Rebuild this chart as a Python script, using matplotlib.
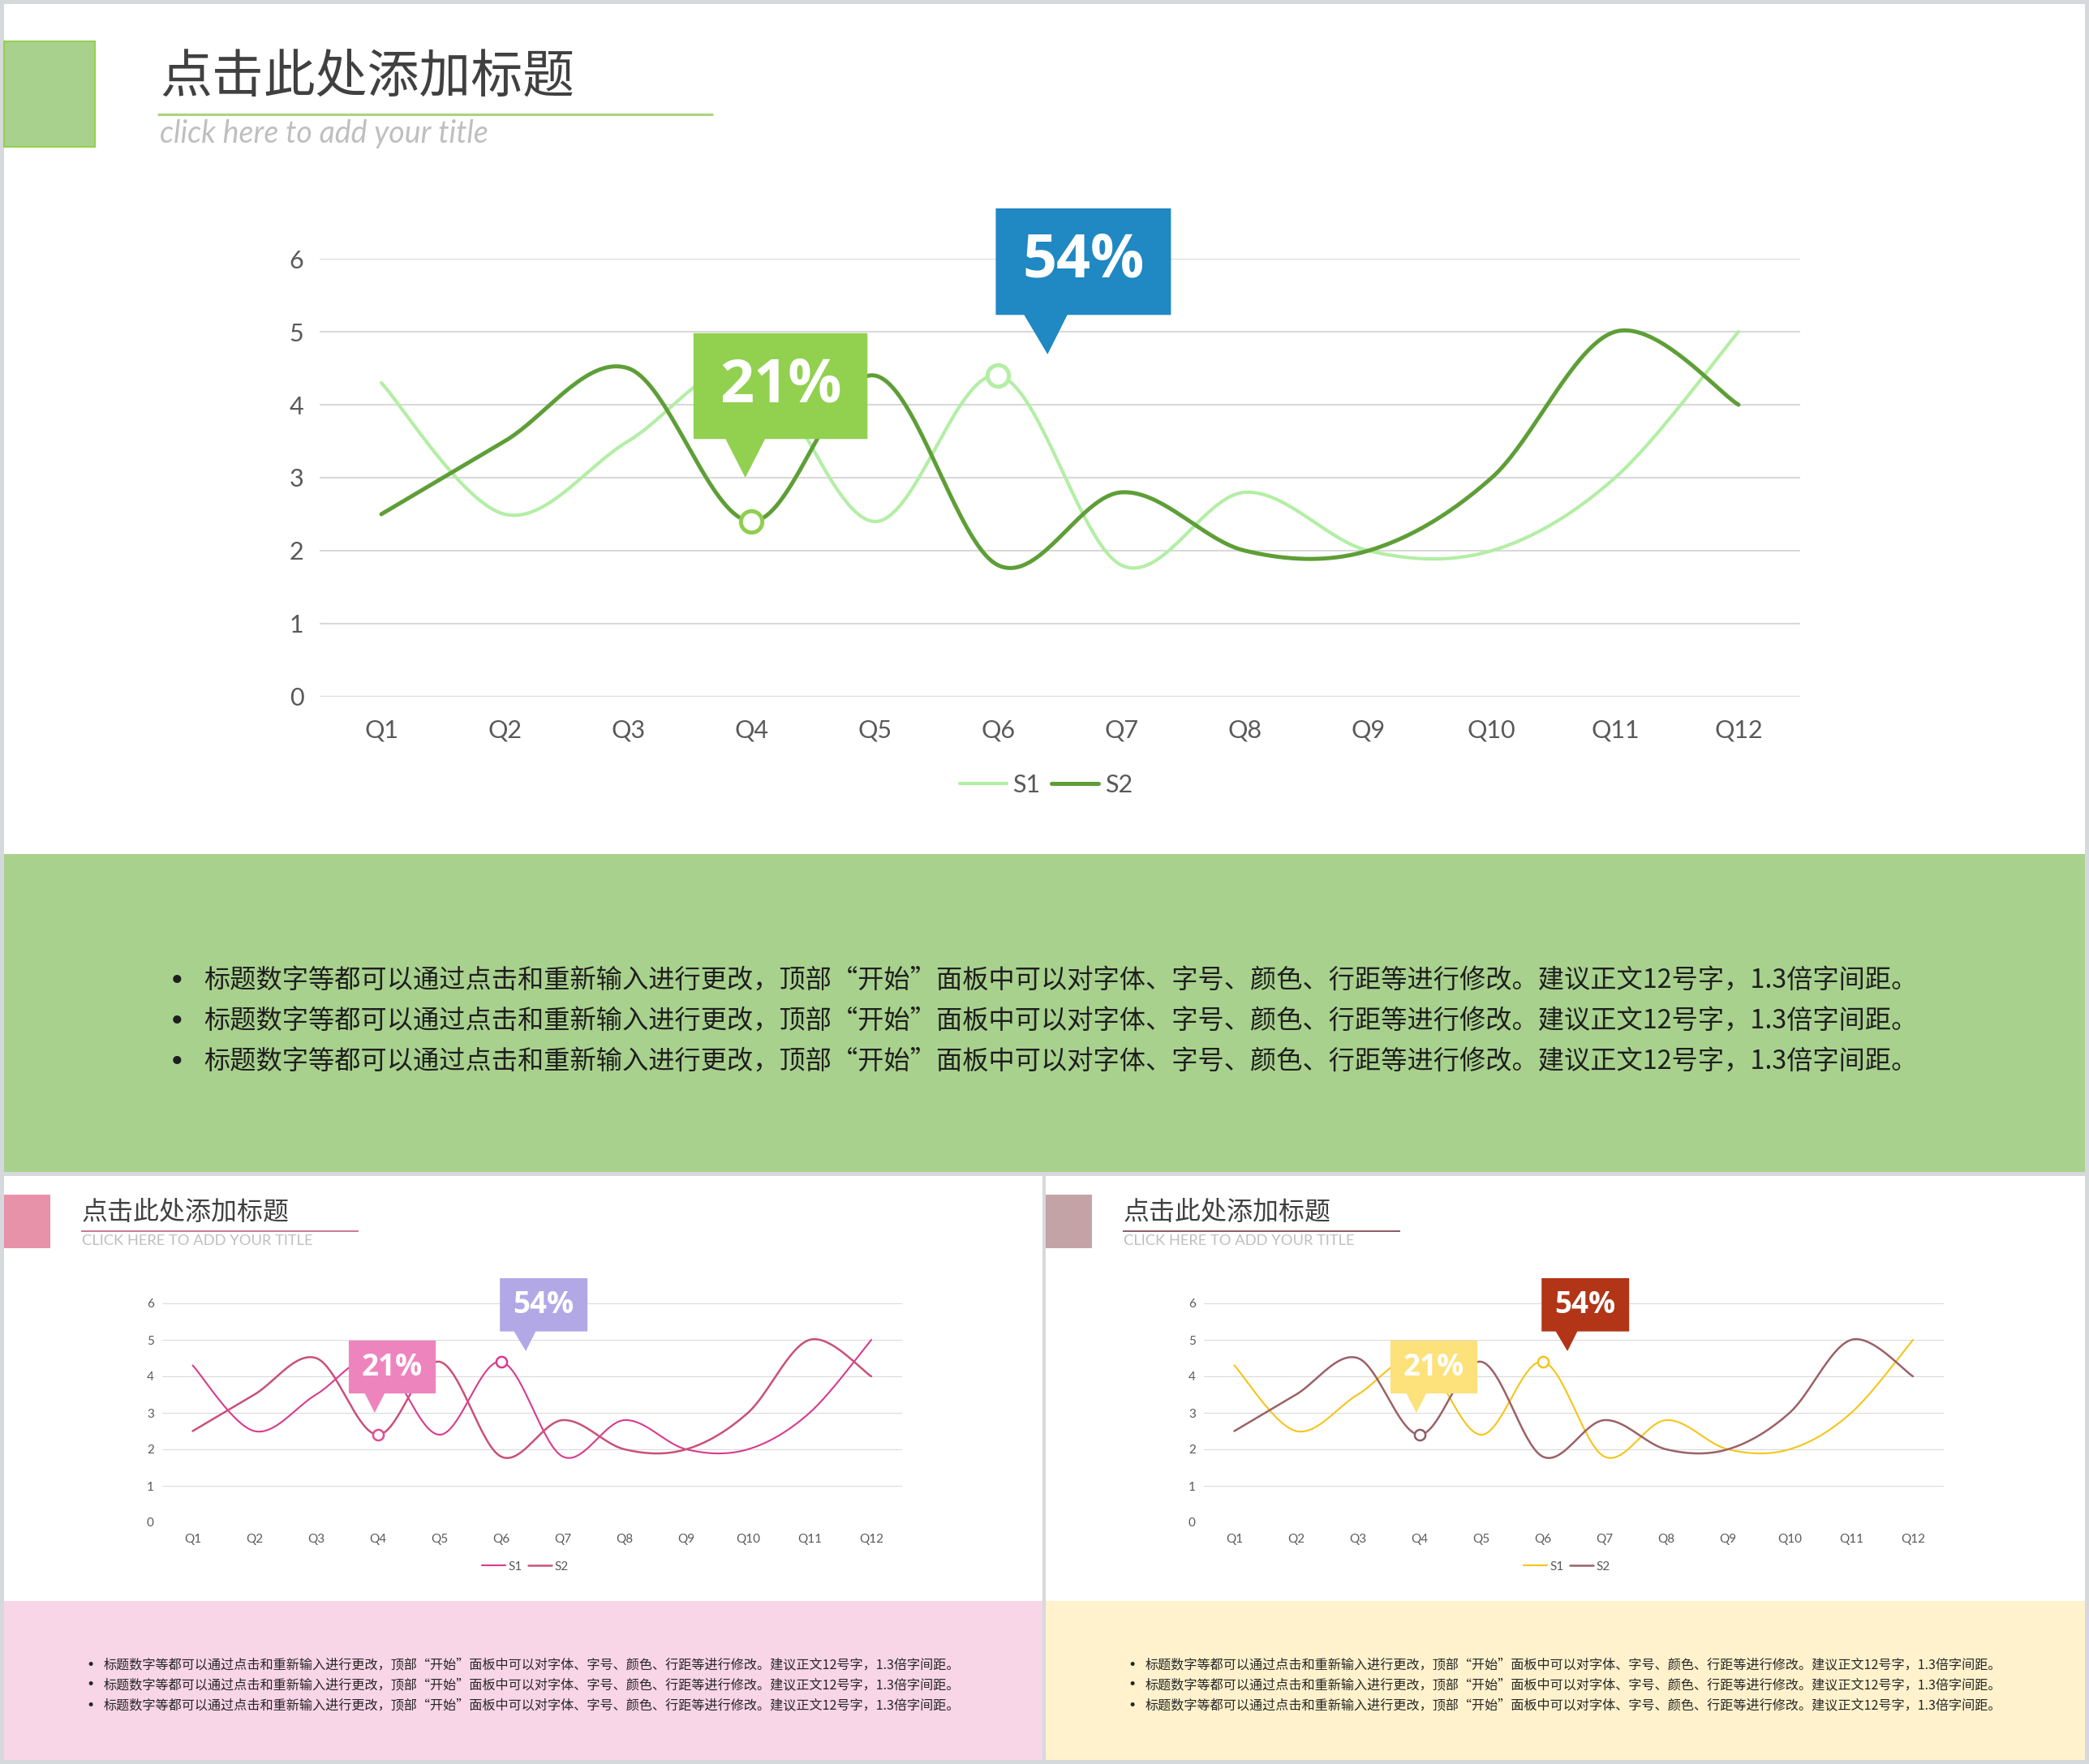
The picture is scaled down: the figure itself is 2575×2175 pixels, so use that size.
import numpy as np
import matplotlib
matplotlib.use("Agg")
import matplotlib.pyplot as plt
from matplotlib.patches import Rectangle, Polygon

# ---------------- data ----------------
categories = ["Q1", "Q2", "Q3", "Q4", "Q5", "Q6", "Q7", "Q8", "Q9", "Q10", "Q11", "Q12"]
s1_values = [4.3, 2.5, 3.5, 4.5, 2.4, 4.4, 1.8, 2.8, 2.0, 2.0, 3.0, 5.0]
s2_values = [2.5, 3.5, 4.5, 2.4, 4.4, 1.8, 2.8, 2.0, 2.0, 3.0, 5.0, 4.0]
series_names = ["S1", "S2"]
y_ticks = [0, 1, 2, 3, 4, 5, 6]
callout_labels = ["21%", "54%"]
callout_series = [1, 0]      # which series the callout points at
callout_index = [3, 5]       # which category (0-based)
title_text = "点击此处添加标题"
subtitle_top = "click here to add your title"
subtitle_small = "CLICK HERE TO ADD YOUR TITLE"
body_text = "标题数字等都可以通过点击和重新输入进行更改，顶部“开始”面板中可以对字体、字号、颜色、行距等进行修改。建议正文12号字，1.3倍字间距。"

# ---------------- styles ----------------
W, H = 2575, 2175
CJK = ["Noto Sans CJK SC", "DejaVu Sans"]
LAT = ["Lato", "DejaVu Sans"]

palettes = [
    dict(square="#a9d18e", square_edge="#92d050", underline="#a9d47f", band="#a9d18e",
         s1="#b3eea5", s2="#5e9e37", box1="#92d050", box2="#2088c2",
         mark=["#8fcf4f", "#b3eea5"], body="#1e1e1e"),
    dict(square="#e792a8", square_edge="#e792a8", underline="#bf4f78", band="#f8d5e7",
         s1="#d93a8f", s2="#c95177", box1="#ee84be", box2="#b3a8e6",
         mark=["#e04c96", "#d93a8f"], body="#262626"),
    dict(square="#c4a3a7", square_edge="#c4a3a7", underline="#6d2d3d", band="#fff2cc",
         s1="#f5c518", s2="#9b6168", box1="#fde17a", box2="#b13516",
         mark=["#8f5d63", "#f5c518"], body="#262626"),
]

# slide origin (px), content scale, slide size (px)
slides = [
    dict(ox=5, oy=5, s=1.0, w=2565, h=1440, pal=palettes[0], sub=subtitle_top, sub_italic=True),
    dict(ox=5, oy=1450, s=0.5, w=1280, h=720, pal=palettes[1], sub=subtitle_small, sub_italic=False),
    dict(ox=1289, oy=1450, s=0.5, w=1281, h=720, pal=palettes[2], sub=subtitle_small, sub_italic=False),
]

# callout geometry relative to the marked point (data units)
callout_geom = [
    dict(bx=(-0.47, 0.94), by=(1.13, 2.58), base=(-0.21, 0.11), tip=(-0.05, 0.60)),
    dict(bx=(-0.02, 1.40), by=(0.83, 2.29), base=(0.21, 0.56), tip=(0.40, 0.29)),
]


def smooth(vals, n=40):
    x = np.arange(1, len(vals) + 1, dtype=float)
    P = np.column_stack([x, np.asarray(vals, dtype=float)])
    Pe = np.vstack([P[0], P, P[-1]])
    out = []
    t = np.linspace(0, 1, n)[:, None]
    for i in range(len(P) - 1):
        p0, p1, p2, p3 = Pe[i], Pe[i + 1], Pe[i + 2], Pe[i + 3]
        c1 = p1 + (p2 - p0) / 6.0
        c2 = p2 - (p3 - p1) / 6.0
        seg = (1 - t) ** 3 * p1 + 3 * (1 - t) ** 2 * t * c1 + 3 * (1 - t) * t ** 2 * c2 + t ** 3 * p2
        out.append(seg if i == 0 else seg[1:])
    return np.vstack(out)


fig = plt.figure(figsize=(W / 100, H / 100), dpi=100)
fig.patch.set_facecolor("#d6d9dc")
bg = fig.add_axes([0, 0, 1, 1])
bg.set_xlim(0, W)
bg.set_ylim(H, 0)
bg.axis("off")

for sl in slides:
    ox, oy, s, pal = sl["ox"], sl["oy"], sl["s"], sl["pal"]

    def X(x):
        return ox + x * s

    def Y(y):
        return oy + y * s

    # slide background
    bg.add_patch(Rectangle((ox, oy), sl["w"], sl["h"], facecolor="white", edgecolor="none", zorder=0))
    # bottom band
    bg.add_patch(Rectangle((ox, Y(1048)), sl["w"], sl["h"] - 1048 * s, facecolor=pal["band"],
                           edgecolor="none", zorder=1))
    # title square
    bg.add_patch(Rectangle((X(0), Y(46)), 112 * s, 130 * s, facecolor=pal["square"],
                           edgecolor=pal["square_edge"], lw=1.5 * s, zorder=2))
    # title
    bg.text(X(192), Y(90), title_text, fontsize=46 * s, family=CJK, weight=300, color="#404040",
            va="center", ha="left", zorder=3)
    bg.plot([X(189), X(874)], [Y(136), Y(136)], color=pal["underline"], lw=2.2 * s, zorder=3,
            solid_capstyle="butt")
    bg.text(X(192), Y(160), sl["sub"], fontsize=(27 if sl["sub_italic"] else 26.5) * s,
            family=LAT, style="italic" if sl["sub_italic"] else "normal",
            color="#bfbfbf", va="center", ha="left", zorder=3)

    # body text
    for yy in (1205, 1255, 1305):
        bg.text(X(213), Y(yy), "•", fontsize=25 * s, family=["DejaVu Sans"], color=pal["body"],
                va="center", ha="center", zorder=3)
        bg.text(X(246), Y(yy), body_text, fontsize=23.2 * s, family=CJK, color=pal["body"],
                va="center", ha="left", zorder=3)

    # chart axes
    left, right, top, bottom = X(389), X(2214), Y(314), Y(854)
    ax = fig.add_axes([left / W, 1 - bottom / H, (right - left) / W, (bottom - top) / H])
    ax.patch.set_alpha(0)
    ax.set_xlim(0.5, 12.5)
    ax.set_ylim(0, 6)
    for sp in ax.spines.values():
        sp.set_visible(False)
    ax.set_yticks(y_ticks)
    ax.set_xticks(np.arange(1, len(categories) + 1))
    ax.set_xticklabels(categories)
    ax.tick_params(length=0, labelsize=22 * s, labelcolor="#595959")
    ax.tick_params(axis="x", pad=20 * s)
    ax.tick_params(axis="y", pad=14 * s)
    for lab in ax.get_xticklabels() + ax.get_yticklabels():
        lab.set_family(LAT)
    ax.yaxis.grid(True, color="#d9d9d9", lw=1.5 * s)
    ax.set_axisbelow(True)

    series = [s1_values, s2_values]
    colors = [pal["s1"], pal["s2"]]
    widths = [3.0 * s, 3.6 * s]
    handles = []
    for k in range(2):
        c = smooth(series[k])
        h, = ax.plot(c[:, 0], c[:, 1], color=colors[k], lw=widths[k], zorder=3 + k,
                     solid_capstyle="round", label=series_names[k])
        handles.append(h)

    for j in range(len(callout_labels)):
        si, ci = callout_series[j], callout_index[j]
        px, py = ci + 1, series[si][ci]
        ax.plot([px], [py], marker="o", ms=19 * s, mfc="white", mec=pal["mark"][j],
                mew=3.6 * s, zorder=6, clip_on=False)
        g = callout_geom[j]
        bx0, bx1 = px + g["bx"][0], px + g["bx"][1]
        by0, by1 = py + g["by"][0], py + g["by"][1]
        verts = [(bx0, by1), (bx1, by1), (bx1, by0), (px + g["base"][1], by0),
                 (px + g["tip"][0], py + g["tip"][1]), (px + g["base"][0], by0), (bx0, by0)]
        ax.add_patch(Polygon(verts, closed=True, facecolor=pal["box1"] if j == 0 else pal["box2"],
                             edgecolor="none", zorder=7, clip_on=False))
        ax.text((bx0 + bx1) / 2, (by0 + by1) / 2, callout_labels[j], fontsize=53 * s,
                family=["Open Sans", "DejaVu Sans"], weight="bold", color="white",
                ha="center", va="center", zorder=8, clip_on=False)

    leg = ax.legend(handles=handles, loc="center", bbox_to_anchor=(0.4907, -0.2019), ncol=2,
                    frameon=False, fontsize=22 * s, handlelength=1.9, handletextpad=0.25,
                    columnspacing=0.45, borderpad=0, borderaxespad=0)
    for t in leg.get_texts():
        t.set_color("#595959")
        t.set_family(LAT)

fig.savefig("out.png", dpi=100, facecolor=fig.get_facecolor())
